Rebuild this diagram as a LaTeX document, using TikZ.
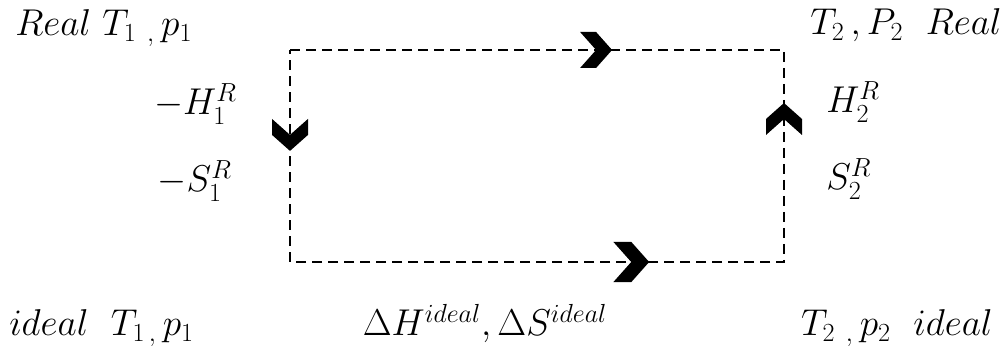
\RequirePackage{fix-cm}
\documentclass[tikz,border=0pt]{standalone}
\usepackage{amsmath}
\usepackage{tikz}
\usetikzlibrary{positioning,calc}

\tikzset{
  cycleline/.style={line width=2pt, dash pattern=on 7.5pt off 4.5pt},
  lbl/.style={inner sep=0pt, font=\fontsize{28}{34}\selectfont},
  chevron/.pic={\fill (-32,18) -- (-16,18) -- (0,0) -- (-16,-18) -- (-32,-18) -- (-16,0) -- cycle;}
}

\begin{document}
\begin{tikzpicture}[x=0.75pt,y=0.75pt]
    \useasboundingbox (0,0) rectangle (1008,349);
    % corners of the cycle
    \coordinate (tl) at (290,299);
    \coordinate (tr) at (784,299);
    \coordinate (br) at (784,87);
    \coordinate (bl) at (290,87);
    \draw[cycleline] (tl) -- (tr) -- (br) -- (bl) -- cycle;
    % direction marks
    \path (tl) -- (tr) coordinate[pos=0.652] (toparr);
    \path (bl) -- (br) coordinate[pos=0.727] (botarr);
    \path (tl) -- (bl) coordinate[pos=0.476] (leftarr);
    \path (br) -- (tr) coordinate[pos=0.75] (rightarr);
    \pic at (toparr) {chevron};
    \pic[scale=1.12] at (botarr) {chevron};
    \pic[rotate=-90] at (leftarr) {chevron};
    \pic[rotate=90] at (rightarr) {chevron};
    % states
    \node[lbl, anchor=base west] (real1) at (15,313) {$Real\ T_{1\ ,}\,p_1$};
    \node[lbl, anchor=base east] (real2) at (1002,314) {$T_2\,,P_2\ \ Real$};
    \node[lbl, anchor=base west] (ideal1) at (9,13) {$ideal\ \ T_{1\,,}\,p_1$};
    \node[lbl, anchor=base east] (ideal2) at (993,13) {$T_{2\ ,}\,p_2\ \ ideal$};
    % residual and ideal changes
    \node[lbl, anchor=base east] (h1) at (237,234) {$-H_1^R$};
    \node[lbl, anchor=base east] (s1) at (232,157) {$-S_1^R$};
    \node[lbl, anchor=base west] (h2) at (826,236) {$H_2^R$};
    \node[lbl, anchor=base west] (s2) at (826,159) {$S_2^R$};
    \node[lbl, anchor=base] (dideal) at (485,13) {$\Delta H^{ideal}, \Delta S^{ideal}$};
\end{tikzpicture}
\end{document}
